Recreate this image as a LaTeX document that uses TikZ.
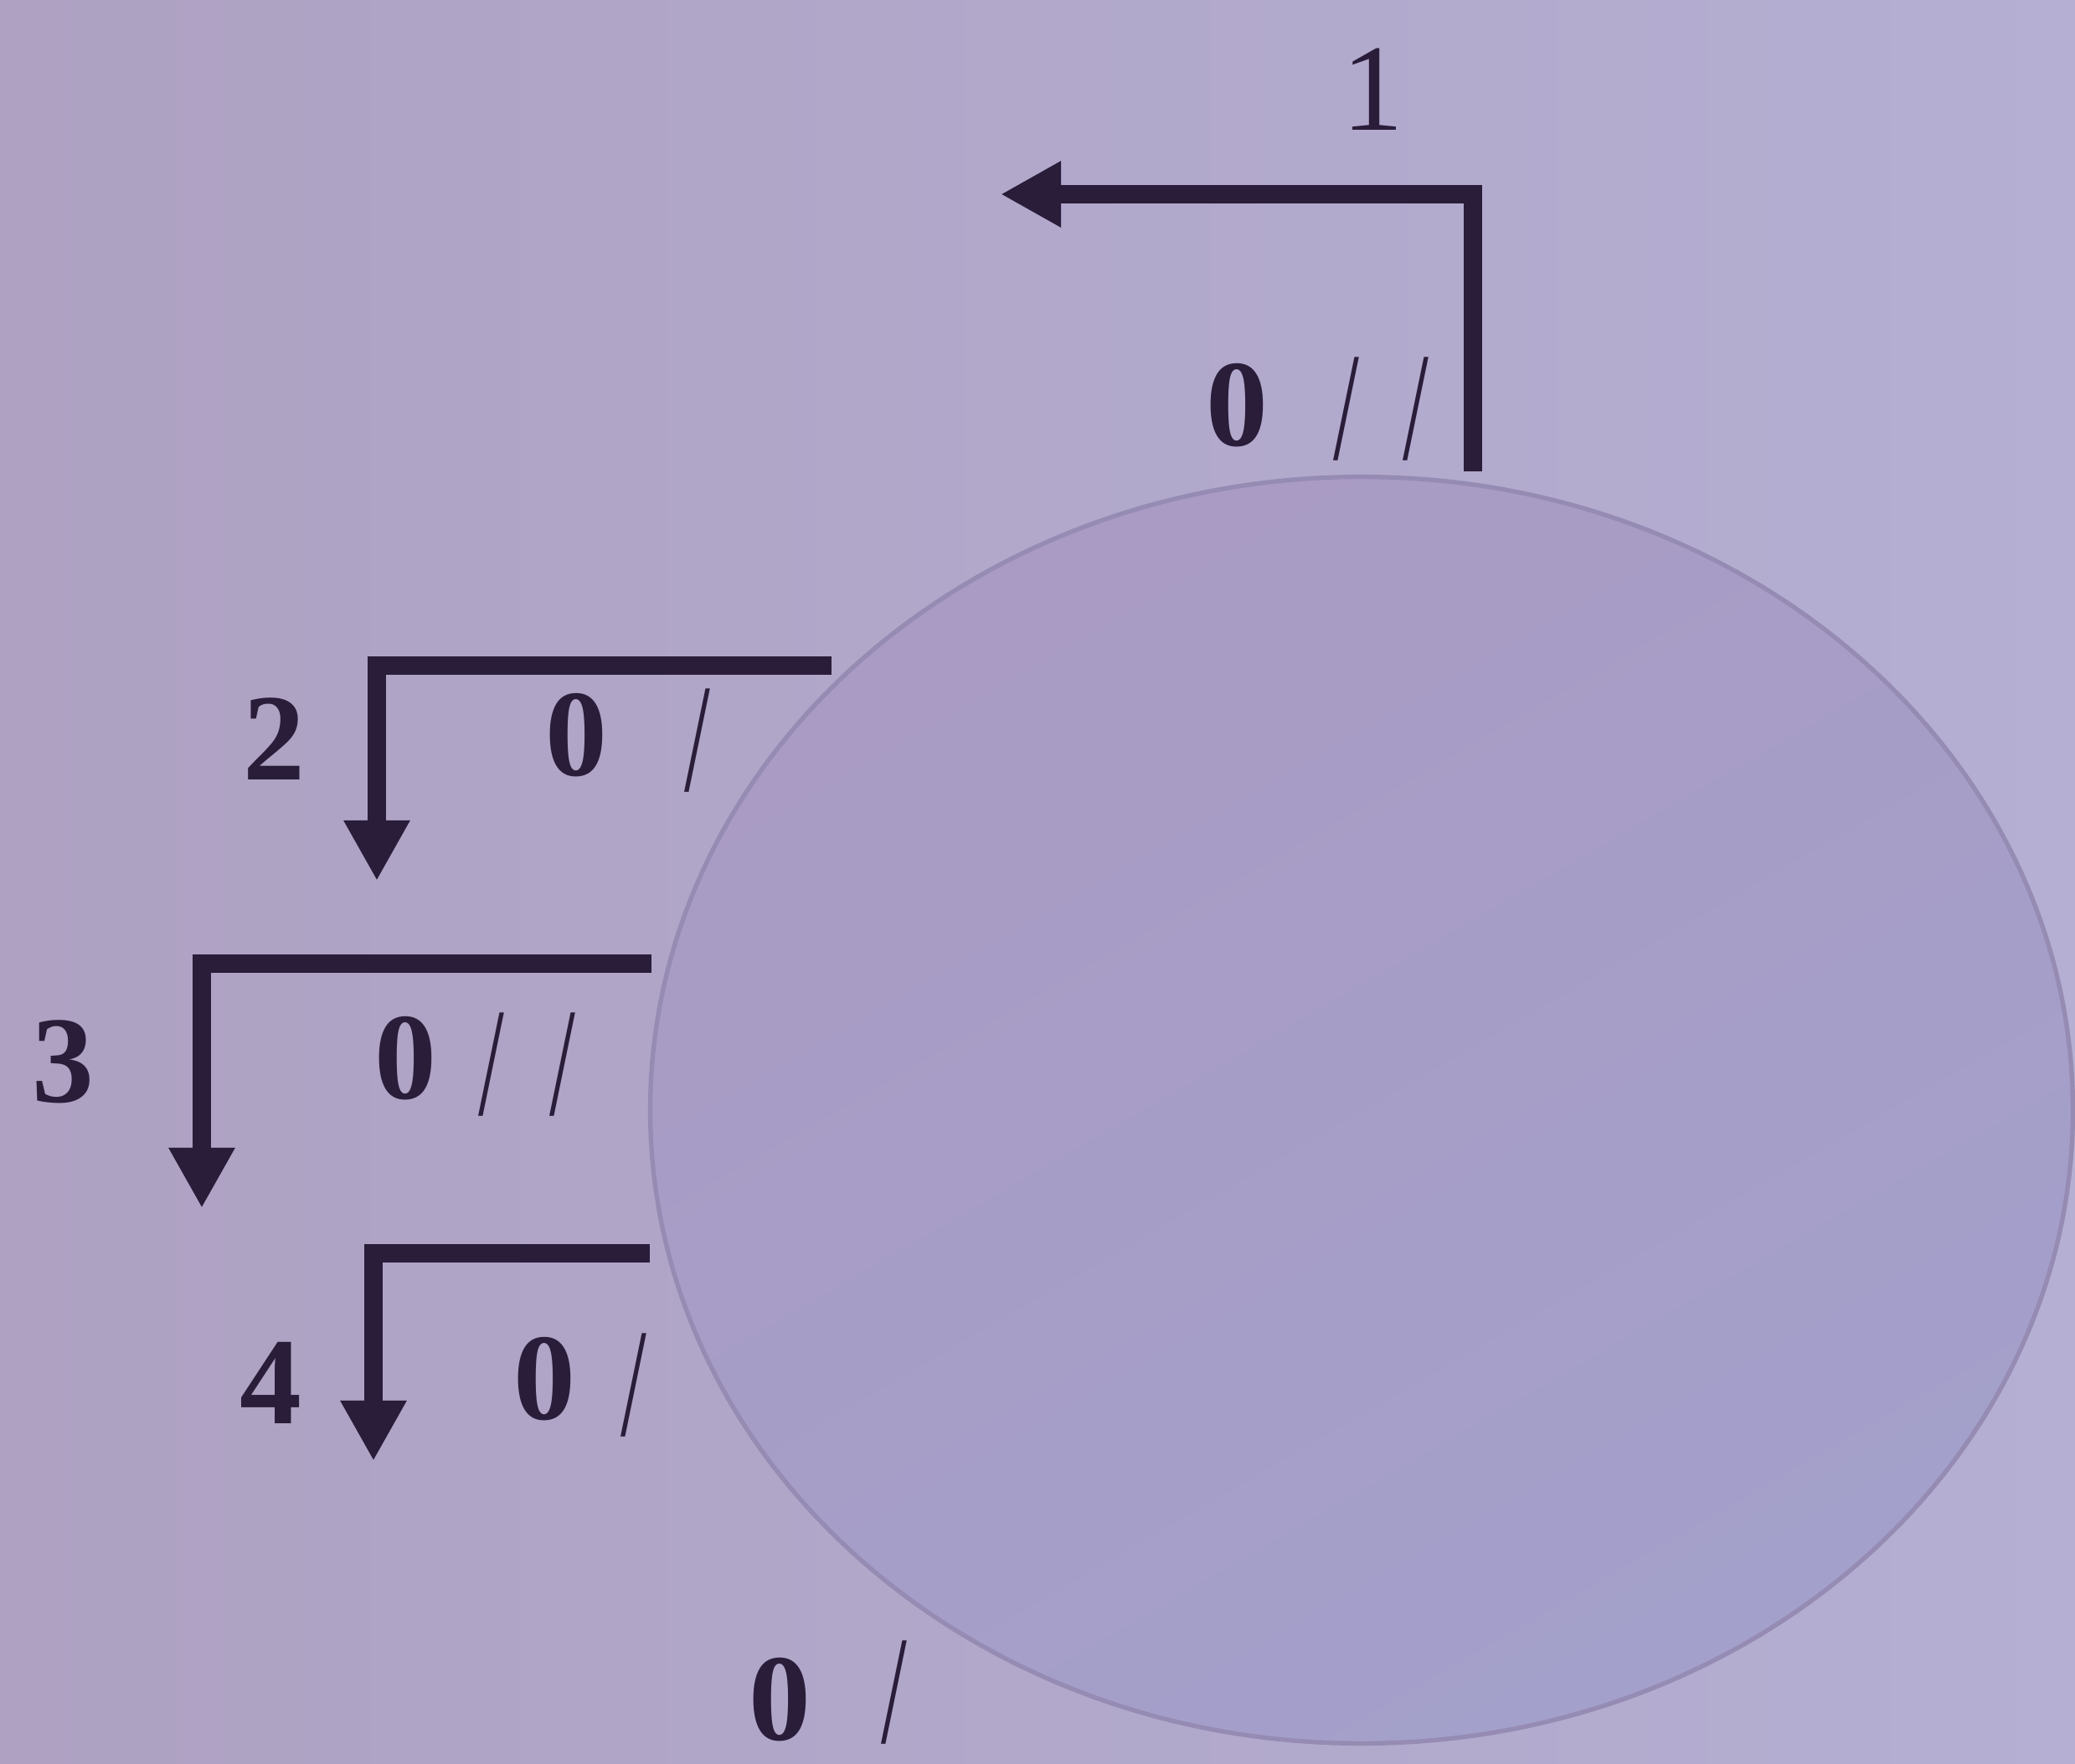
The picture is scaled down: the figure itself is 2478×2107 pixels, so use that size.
\documentclass[tikz,border=0pt]{standalone}
\usepackage{fontspec}
\setmainfont{Liberation Serif}
\usetikzlibrary{arrows.meta,shapes.geometric}
\definecolor{bgl}{HTML}{AEA1C2}
\definecolor{bgr}{HTML}{B4AFD3}
\definecolor{balla}{HTML}{A99BC3}
\definecolor{ballb}{HTML}{A3A0CB}
\definecolor{rim}{HTML}{958BB3}
\definecolor{ink}{HTML}{2A1D3A}
\tikzset{
  arr/.style={draw=ink, line width=6.3pt, line join=miter, line cap=butt,
    -{Triangle[length=0.72cm,width=0.74cm]}},
  digit/.style={text=ink, inner sep=0pt, font=\fontsize{42}{50}\selectfont\bfseries},
  plain/.style={text=ink, inner sep=0pt, font=\fontsize{42}{50}\selectfont},
  slash/.style={text=ink, inner sep=0pt, font=\fontsize{42}{50}\selectfont},
}
\newcommand{\slsh}{\scalebox{0.75}[1.25]{/}}
\begin{document}
\begin{tikzpicture}[x=0.01cm,y=-0.01cm]
\useasboundingbox (0,0) rectangle (2478,2107);
\clip (0,0) rectangle (2478,2107);
\shade[left color=bgl, right color=bgr] (0,0) rectangle (2478,2107);
% ball
\node (ball) [ellipse, minimum width=16.98cm, minimum height=15.12cm, inner sep=0pt,
  shading=axis, top color=balla, bottom color=ballb, shading angle=30,
  draw=rim, line width=1.5pt] at (1626,1326) {};
% arrow 1
\coordinate (a1s) at (1759,563);
\coordinate (a1e) at (1195,232);
\draw[arr] (a1s) |- (a1e);
\node[plain] (n1) at (1639,107) {1};
\node[digit] (z1) at (1477,484) {0};
\node[slash] (s1a) at (1608,489) {\slsh};
\node[slash] (s1b) at (1691,489) {\slsh};
% arrow 2
\coordinate (a2s) at (993,795);
\coordinate (a2e) at (450,1052);
\draw[arr] (a2s) -| (a2e);
\node[digit] (n2) at (327,883) {2};
\node[digit] (z2) at (688,878) {0};
\node[slash] (s2) at (833,885) {\slsh};
% arrow 3
\coordinate (a3s) at (778,1151);
\coordinate (a3e) at (241,1443);
\draw[arr] (a3s) -| (a3e);
\node[digit] (n3) at (75,1268) {3};
\node[digit] (z3) at (484,1264) {0};
\node[slash] (s3a) at (587,1272) {\slsh};
\node[slash] (s3b) at (672,1272) {\slsh};
% arrow 4
\coordinate (a4s) at (776,1497);
\coordinate (a4e) at (446,1745);
\draw[arr] (a4s) -| (a4e);
\node[digit] (n4) at (323,1652) {4};
\node[digit] (z4) at (650,1647) {0};
\node[slash] (s4) at (757,1655) {\slsh};
% bottom label
\node[digit] (z5) at (931,2030) {0};
\node[slash] (s5) at (1068,2022) {\slsh};
\end{tikzpicture}
\end{document}
